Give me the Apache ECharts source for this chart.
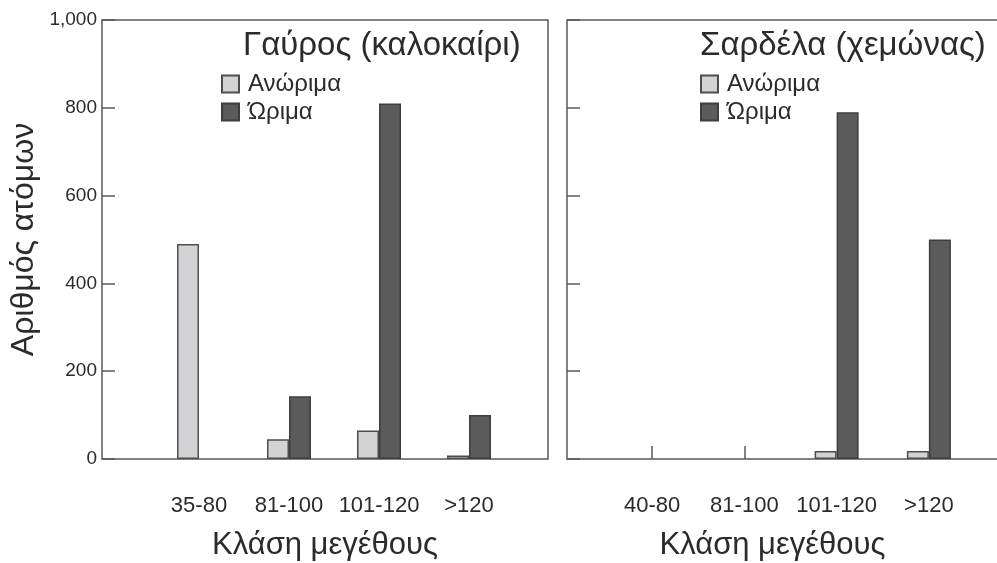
<!DOCTYPE html>
<html>
<head>
<meta charset="utf-8">
<script src="https://cdn.jsdelivr.net/npm/echarts@6/dist/echarts.min.js"></script>
<style>
  html, body { margin: 0; padding: 0; background: #fff; }
  #chart { width: 997px; height: 563px; }
</style>
</head>
<body>
<div id="chart"></div>
<script>
// Size classes (mm) for each species
const classesGavros = ['35-80', '81-100', '101-120', '>120'];
const classesSardela = ['40-80', '81-100', '101-120', '>120'];

// Number of individuals per size class (null = no individuals recorded)
const gavrosImmature = [490, 45, 65, 8];
const gavrosMature = [null, 143, 810, 100];
const sardelaImmature = [null, null, 18, 18];
const sardelaMature = [null, null, 790, 500];

// Value axis ticks
const yTicks = [0, 200, 400, 600, 800, 1000];

const seriesNames = ['Ανώριμα', 'Ώριμα'];
const panelTitles = ['Γαύρος (καλοκαίρι)', 'Σαρδέλα (χεμώνας)'];
const yAxisTitle = 'Αριθμός ατόμων';
const xAxisTitle = 'Κλάση μεγέθους';

const FONT = '"Liberation Sans", Arial, sans-serif';
const TEXT = '#2b2b2b';
const FRAME = '#5a5a5a';
const LIGHT = { color: '#d3d3d5', borderColor: '#4d4d4d', borderWidth: 1.5 };
const DARK = { color: '#5b5b5b', borderColor: '#3e3e3e', borderWidth: 1.5 };

const TOP = 20, HEIGHT = 439;
const yMin = yTicks[0], yMax = yTicks[yTicks.length - 1], yStep = yTicks[1] - yTicks[0];

const chart = echarts.init(document.getElementById('chart'), null, { renderer: 'canvas' });

function frameY(gridIndex, showLabels) {
  return {
    type: 'value', gridIndex, min: yMin, max: yMax, interval: yStep,
    axisLine: { show: false },
    axisTick: { show: true, inside: true, length: 13, lineStyle: { color: FRAME, width: 1.5 } },
    splitLine: { show: false },
    axisLabel: {
      show: showLabels, color: TEXT, fontFamily: FONT, fontSize: 19, margin: 5,
      formatter: v => v.toLocaleString('en-US')
    },
    name: showLabels ? yAxisTitle : '',
    nameLocation: 'middle', nameRotate: 90, nameGap: 62,
    nameTextStyle: { color: TEXT, fontFamily: FONT, fontSize: 32 }
  };
}

function hiddenY(gridIndex) {
  return {
    type: 'value', gridIndex, min: yMin, max: yMax, interval: yStep,
    show: false
  };
}

function barX(gridIndex, cats, tickFn, namePad) {
  return {
    type: 'category', gridIndex, data: cats,
    axisLine: { show: false },
    axisTick: {
      show: !!tickFn, inside: true, length: 13, alignWithLabel: true,
      interval: tickFn || 0, lineStyle: { color: FRAME, width: 1.5 }
    },
    axisLabel: { color: TEXT, fontFamily: FONT, fontSize: 22, margin: 36, interval: 0 },
    name: xAxisTitle, nameLocation: 'middle', nameGap: 71,
    nameTextStyle: { color: TEXT, fontFamily: FONT, fontSize: 31, padding: namePad }
  };
}

function frameX(gridIndex) {
  return { type: 'category', gridIndex, data: [''], show: false };
}

function bars(name, data, style, xi, yi) {
  return {
    type: 'bar', name, data, xAxisIndex: xi, yAxisIndex: yi,
    barWidth: 22, barGap: '0%', itemStyle: style, z: 3,
    emphasis: { disabled: true }
  };
}

function legendAt(left) {
  return {
    left, top: 67, orient: 'vertical', itemWidth: 17, itemHeight: 17, itemGap: 4,
    icon: 'rect', data: seriesNames, selectedMode: false,
    textStyle: { color: TEXT, fontFamily: FONT, fontSize: 24, padding: [0, 0, 0, 4] }
  };
}

function titleAt(text, left) {
  return {
    text, left, top: 24,
    textStyle: { color: TEXT, fontFamily: FONT, fontSize: 33, fontWeight: 'normal' }
  };
}

const gridBase = { top: TOP, height: HEIGHT, outerBoundsMode: 'none', containLabel: false };

const option = {
  backgroundColor: '#fff',
  animation: false,
  textStyle: { fontFamily: FONT },
  title: [titleAt(panelTitles[0], 238), titleAt(panelTitles[1], 695)],
  legend: [legendAt(216), legendAt(695)],
  grid: [
    // panel frames
    Object.assign({ left: 102, width: 446, show: true,
      borderColor: FRAME, borderWidth: 1.5, backgroundColor: 'transparent' }, gridBase),
    Object.assign({ left: 567, width: 445, show: true,
      borderColor: FRAME, borderWidth: 1.5, backgroundColor: 'transparent' }, gridBase),
    // bar areas
    Object.assign({ left: 154, width: 360 }, gridBase),
    Object.assign({ left: 606, width: 369 }, gridBase)
  ],
  xAxis: [
    frameX(0), frameX(1),
    barX(2, classesGavros, null, [0, 18, 0, 0]),
    barX(3, classesSardela, idx => idx < 2, [0, 36, 0, 0])
  ],
  yAxis: [
    frameY(0, true), frameY(1, false),
    hiddenY(2), hiddenY(3)
  ],
  series: [
    bars(seriesNames[0], gavrosImmature, LIGHT, 2, 2),
    bars(seriesNames[1], gavrosMature, DARK, 2, 2),
    bars(seriesNames[0], sardelaImmature, LIGHT, 3, 3),
    bars(seriesNames[1], sardelaMature, DARK, 3, 3)
  ]
};

chart.setOption(option);
</script>
</body>
</html>
